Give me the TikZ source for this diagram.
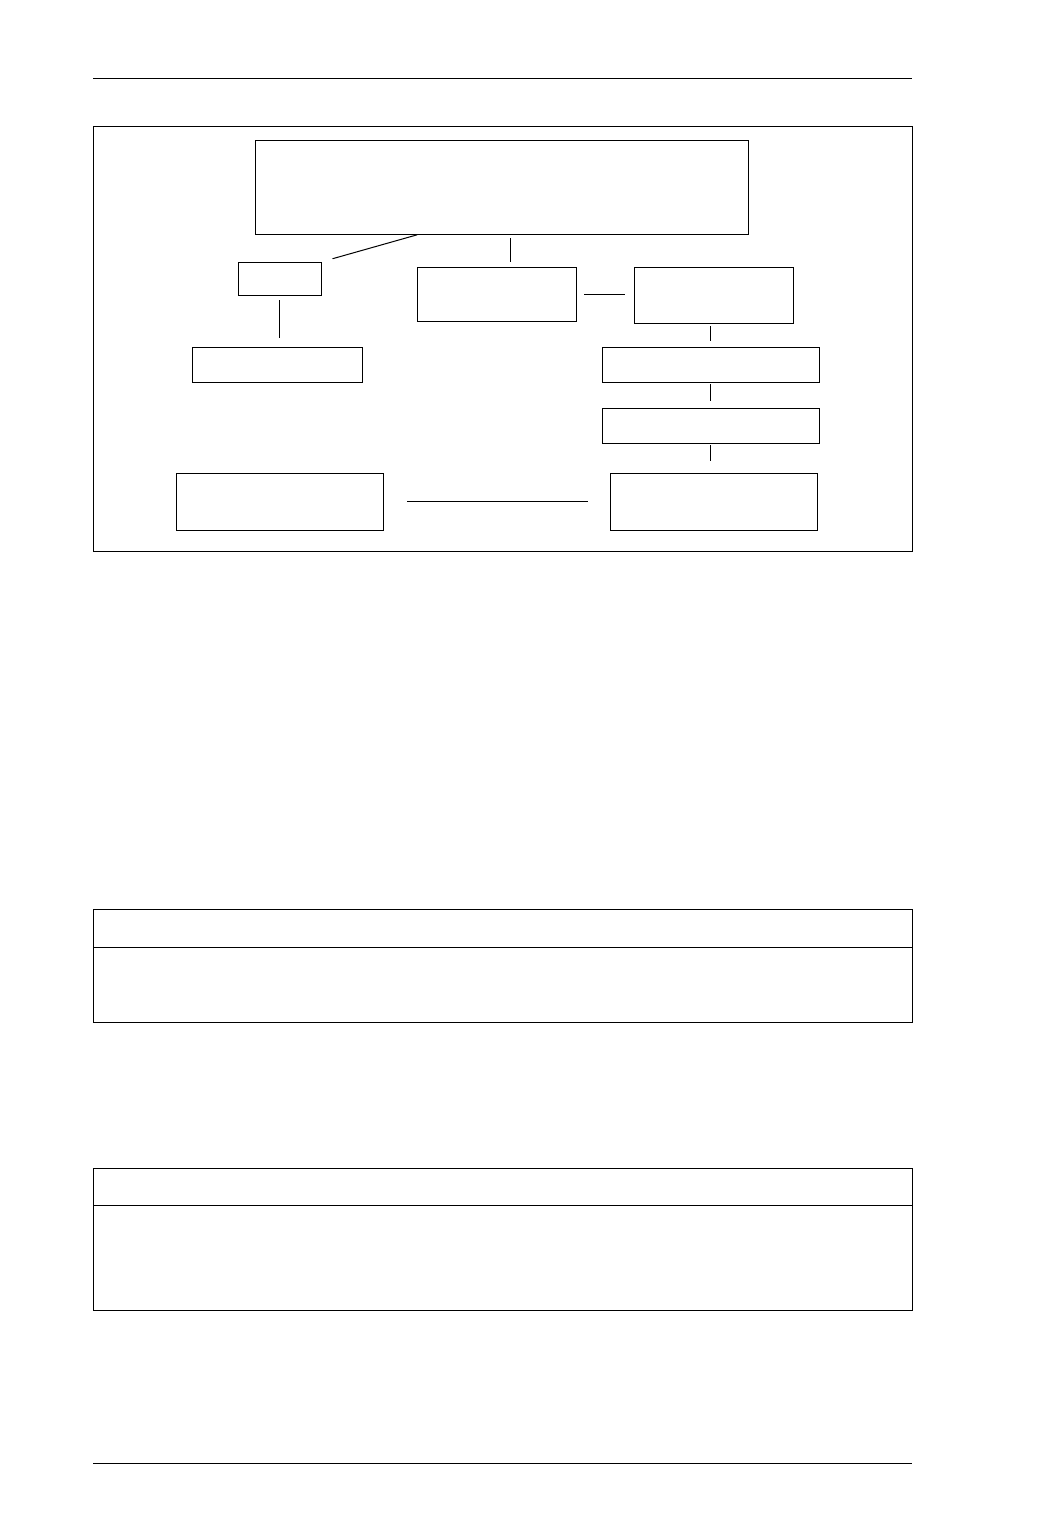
\documentclass[tikz,border=0pt]{standalone}
\usepackage{tikz}
\usetikzlibrary{calc}

\begin{document}
\begin{tikzpicture}[x=0.5pt, y=-0.5pt, line width=0.5pt,
  blk/.style={draw, inner sep=0pt, outer sep=0pt},
  link/.style={draw}]
\useasboundingbox (0,0) rectangle (1053,1537);

% Page rules
\draw (93,78) -- (912,78);
\draw (93,1463) -- (912,1463);

% Frame
\draw (93,126) rectangle (912,551);

% Boxes
\node[blk, minimum width=246.5pt, minimum height=47pt] (top) at (501.5,187) {};
\node[blk, minimum width=41.5pt, minimum height=16.5pt] (small) at (279.5,278.5) {};
\node[blk, minimum width=79.5pt, minimum height=27pt] (mid) at (496.5,294) {};
\node[blk, minimum width=79.5pt, minimum height=28pt] (rgt) at (713.5,295) {};
\node[blk, minimum width=85pt, minimum height=17.5pt] (lft) at (277,364.5) {};
\node[blk, minimum width=108.5pt, minimum height=17.5pt] (rgta) at (710.5,364.5) {};
\node[blk, minimum width=108.5pt, minimum height=17.5pt] (rgtb) at (710.5,425.5) {};
\node[blk, minimum width=103.5pt, minimum height=28.5pt] (botl) at (279.5,501.5) {};
\node[blk, minimum width=103.5pt, minimum height=28.5pt] (botr) at (713.5,501.5) {};

% Connectors
\draw[shorten <=1.5pt, shorten >=6pt] ([xshift=-40.75pt]top.south) -- (small.north east);
\draw[shorten <=2pt, shorten >=2.5pt] ([xshift=4.25pt]top.south) -- ([xshift=4.25pt]top.south |- mid.north);
\draw[shorten <=4pt, shorten >=4.5pt] (mid.east) -- (mid.east -| rgt.west);
\draw[shorten <=2.5pt, shorten >=4.5pt] (small.south) -- (small.south |- lft.north);
\draw[shorten <=1.5pt, shorten >=3pt] (rgt.south -| rgta.north) -- (rgta.north);
\draw[shorten <=1pt, shorten >=3.5pt] (rgta.south) -- (rgtb.north);
\draw[shorten <=1pt, shorten >=6pt] (rgtb.south) -- (rgtb.south |- botr.north);
\draw[shorten <=12pt, shorten >=11pt] (botl.east) -- (botr.west);

% Tables
\draw (93,909) rectangle (912,1022);
\draw (93,947) -- (912,947);
\draw (93,1168) rectangle (912,1310);
\draw (93,1205) -- (912,1205);
\end{tikzpicture}
\end{document}
